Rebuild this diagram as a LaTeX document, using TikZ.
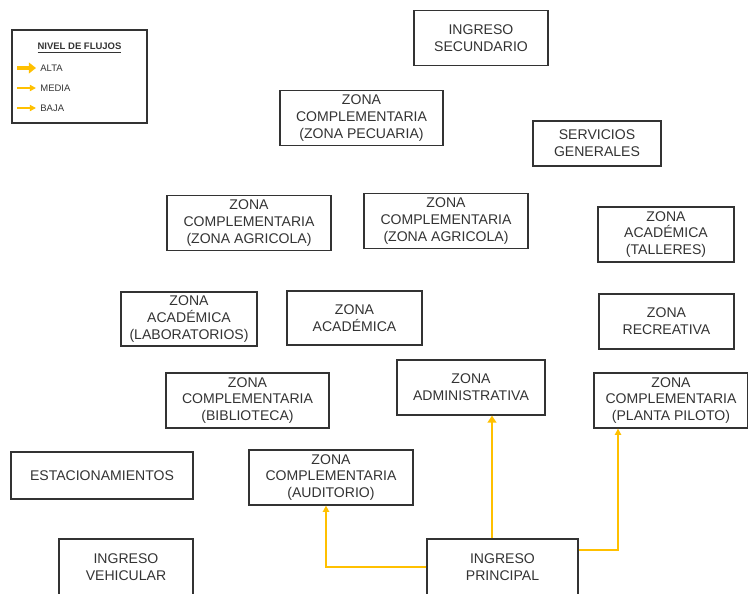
\documentclass[tikz,border=0pt]{standalone}
\usepackage{fontspec}
\setmainfont{Liberation Sans}
\usetikzlibrary{arrows.meta}

\definecolor{flujo}{HTML}{FFC000}
\definecolor{texto}{HTML}{333333}

\begin{document}
\begin{tikzpicture}[x=0.02cm, y=-0.02cm,
    zona/.style={draw=black!80, line width=0.7pt, text=texto, align=center,
        font=\fontsize{8}{9.6}\selectfont, inner sep=0pt, minimum height=1.1cm},
    leyenda/.style={text=texto, font=\fontsize{5.4}{6.5}\selectfont, inner sep=0pt},
    alta/.style={flujo, line width=1.6pt, -{Triangle[length=4pt,width=5pt]}},
    media/.style={flujo, line width=0.8pt, -{Triangle[length=3.5pt,width=3.5pt]}}]

    \useasboundingbox (0,0) rectangle (748,593);
    \clip (0,0) rectangle (748,593);

    % leyenda
    \draw[black!80, line width=0.7pt] (12,30) rectangle (147,123);
    \node[leyenda, font=\fontsize{5.4}{6.5}\selectfont\bfseries] at (79.5,48) (tit) {\underline{NIVEL DE FLUJOS}};
    \coordinate (a1) at (17,68);  \coordinate (a2) at (36,68);
    \coordinate (m1) at (17,88);  \coordinate (m2) at (36,88);
    \coordinate (b1) at (17,108); \coordinate (b2) at (36,108);
    \draw[alta, line width=2.2pt, -{Triangle[length=4pt,width=6pt]}] (a1) -- (a2);
    \draw[media, line width=0.9pt] (m1) -- (m2);
    \draw[media] (b1) -- (b2);
    \node[leyenda, anchor=west] at (40,68) (alta) {ALTA};
    \node[leyenda, anchor=west] at (40,88) (media) {MEDIA};
    \node[leyenda, anchor=west] at (40,108) (baja) {BAJA};

    % zonas
    \draw (481,38) node[zona, minimum width=2.68cm] (ingsec) {INGRESO\\SECUNDARIO};
    \draw (361.5,118) node[zona, minimum width=3.26cm] (pecuaria) {ZONA\\COMPLEMENTARIA\\(ZONA PECUARIA)};
    \draw (597,143.5) node[zona, minimum width=2.56cm, minimum height=0.9cm] (servicios) {SERVICIOS\\GENERALES};
    \draw (249,223) node[zona, minimum width=3.28cm] (agri1) {ZONA\\COMPLEMENTARIA\\(ZONA AGRICOLA)};
    \draw (446,221) node[zona, minimum width=3.28cm] (agri2) {ZONA\\COMPLEMENTARIA\\(ZONA AGRICOLA)};
    \draw (666,234.5) node[zona, minimum width=2.72cm] (talleres) {ZONA\\ACADÉMICA\\(TALLERES)};
    \draw (189,319) node[zona, minimum width=2.72cm, minimum height=1.08cm] (lab) {ZONA\\ACADÉMICA\\(LABORATORIOS)};
    \draw (354.5,318) node[zona, minimum width=2.7cm, minimum height=1.08cm] (acad) {ZONA\\ACADÉMICA};
    \draw (666.5,321.5) node[zona, minimum width=2.7cm] (recre) {ZONA\\RECREATIVA};
    \draw (247.5,400.5) node[zona, minimum width=3.26cm] (biblio) {ZONA\\COMPLEMENTARIA\\(BIBLIOTECA)};
    \draw (471,387.5) node[zona, minimum width=2.96cm] (adm) {ZONA\\ADMINISTRATIVA};
    \draw (671,400.5) node[zona, minimum width=3.08cm] (piloto) {ZONA\\COMPLEMENTARIA\\(PLANTA PILOTO)};
    \draw (102,475.5) node[zona, minimum width=3.64cm, minimum height=0.94cm] (estac) {ESTACIONAMIENTOS};
    \draw (331,477.5) node[zona, minimum width=3.28cm] (audit) {ZONA\\COMPLEMENTARIA\\(AUDITORIO)};
    \draw (126,567) node[zona, minimum width=2.68cm, minimum height=1.12cm] (ingveh) {INGRESO\\VEHICULAR};
    \draw (502.5,567) node[zona, minimum width=3.02cm, minimum height=1.12cm] (ingppal) {INGRESO\\PRINCIPAL};

    % flujos desde el ingreso principal
    \draw[alta, line width=1.4pt] ([xshift=-0.21cm]ingppal.north) -- ([xshift=-0.21cm]ingppal.north |- adm.south);
    \draw[media] (ingppal.west) -| ([xshift=-0.1cm]audit.south);
    \draw[media] ([yshift=0.34cm]ingppal.east) -| ([xshift=-1.06cm]piloto.south);
\end{tikzpicture}
\end{document}
